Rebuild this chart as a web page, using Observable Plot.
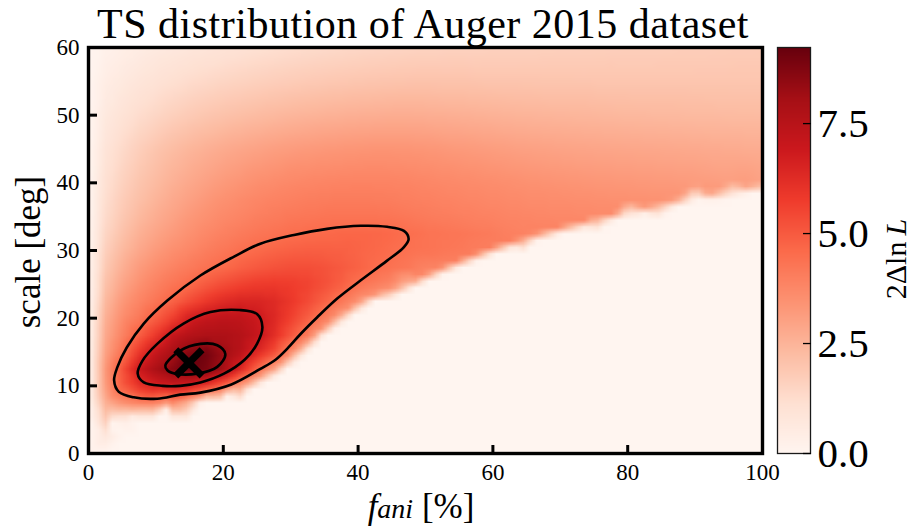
<!DOCTYPE html>
<html><head><meta charset="utf-8">
<script src="https://cdn.jsdelivr.net/npm/d3@7"></script>
<script src="https://cdn.jsdelivr.net/npm/@observablehq/plot@0.6"></script>
<style>
html,body{margin:0;padding:0;background:#fff;overflow:hidden;}
#wrap{position:relative;width:917px;height:529px;overflow:hidden;background:#fff;}
#wrap svg{position:absolute;top:0;}
</style></head><body><div id="wrap"></div>
<script>
// ---- data ----
const fGrid = [0,2.5,5,7.5,10,12.5,15,17.5,20,22.5,25,27.5,30,32.5,35,37.5,40,42.5,45,47.5,50,55,60,65,70,75,80,85,90,95,100];
const sGrid = [0,2.5,5,7.5,10,12.5,15,17.5,20,22.5,25,27.5,30,32.5,35,37.5,40,45,50,55,60];
const tsRows = [
 [0,0,0,0,0,0,0,0,0,0, 0,0,0,0,0,0,0,0,0,0, 0,0,0,0,0,0,0,0,0,0, 0],
 [0,0.7,0,0,0,0,0,0,0,0, 0,0,0,0,0,0,0,0,0,0, 0,0,0,0,0,0,0,0,0,0, 0],
 [0,1.8,0.4,0,0,0,0,0,0,0, 0,0,0,0,0,0,0,0,0,0, 0,0,0,0,0,0,0,0,0,0, 0],
 [0,2.6,3.5,3.9,4.0,3.7,2.5,0,0,0, 0,0,0,0,0,0,0,0,0,0, 0,0,0,0,0,0,0,0,0,0, 0],
 [0,3.2,5.1,6.1,6.7,6.9,6.7,6.0,4.8,3.2, 0,0,0,0,0,0,0,0,0,0, 0,0,0,0,0,0,0,0,0,0, 0],
 [0,3.3,5.2,6.9,7.9,8.6,9.15,8.8,8.0,6.4, 4.7,3.0,0,0,0,0,0,0,0,0, 0,0,0,0,0,0,0,0,0,0, 0],
 [0,3.0,4.3,5.9,7.1,7.9,8.6,9.0,8.3,7.5, 6.5,5.4,3.8,0,0,0,0,0,0,0, 0,0,0,0,0,0,0,0,0,0, 0],
 [0,2.8,3.9,4.9,5.9,7.1,7.6,7.8,7.8,7.6, 7.1,6.2,5.1,4.1,0,0,0,0,0,0, 0,0,0,0,0,0,0,0,0,0, 0],
 [0,2.6,3.6,4.2,4.9,5.7,6.7,7.15,7.35,7.3, 7.0,6.4,5.7,4.9,4.1,1.7,0,0,0,0, 0,0,0,0,0,0,0,0,0,0, 0],
 [0,2.35,3.3,3.85,4.3,4.8,5.4,5.9,6.3,6.5, 6.5,6.3,5.9,5.4,4.8,4.2,3.5,0,0,0, 0,0,0,0,0,0,0,0,0,0, 0],
 [0,2.1,2.95,3.5,3.95,4.3,4.6,5.0,5.35,5.6, 5.8,5.85,5.8,5.6,5.3,4.9,4.4,4.1,3.8,2.6, 0,0,0,0,0,0,0,0,0,0, 0],
 [0,1.85,2.65,3.2,3.6,3.9,4.15,4.38,4.6,4.85, 5.05,5.2,5.3,5.3,5.2,5.0,4.8,4.55,4.35,4.2, 3.9,0,0,0,0,0,0,0,0,0, 0],
 [0,1.65,2.35,2.85,3.25,3.55,3.8,4.05,4.25,4.45, 4.6,4.75,4.85,4.9,4.9,4.85,4.75,4.65,4.52,4.4, 4.35,4.2,2.0,0,0,0,0,0,0,0, 0],
 [0,1.45,2.1,2.6,2.95,3.25,3.5,3.75,3.95,4.12, 4.27,4.38,4.47,4.55,4.62,4.68,4.7,4.68,4.62,4.48, 4.35,4.25,4.1,3.9,0,0,0,0,0,0, 0],
 [0,1.3,1.9,2.35,2.7,3.0,3.3,3.5,3.7,3.85, 4.0,4.1,4.2,4.25,4.3,4.32,4.32,4.3,4.27,4.2, 4.12,4.0,3.9,3.8,3.75,3.7,0,0,0,0, 0],
 [0,1.2,1.75,2.15,2.5,2.8,3.05,3.3,3.5,3.65, 3.8,3.9,3.98,4.03,4.07,4.1,4.1,4.08,4.05,4.0, 3.95,3.85,3.75,3.65,3.6,3.55,3.5,3.45,0,0, 0],
 [0,1.1,1.6,2.0,2.3,2.6,2.85,3.05,3.25,3.4, 3.55,3.65,3.75,3.8,3.85,3.88,3.9,3.9,3.88,3.85, 3.8,3.7,3.6,3.5,3.42,3.35,3.3,3.25,3.2,3.1, 3.0],
 [0,0.9,1.35,1.7,2.0,2.25,2.45,2.62,2.78,2.9, 3.0,3.1,3.18,3.25,3.3,3.34,3.37,3.4,3.4,3.38, 3.35,3.25,3.15,3.05,2.98,2.92,2.88,2.84,2.8,2.75, 2.7],
 [0,0.65,1.0,1.25,1.45,1.65,1.82,1.96,2.08,2.18, 2.28,2.36,2.44,2.5,2.56,2.6,2.64,2.67,2.7,2.7, 2.68,2.63,2.56,2.5,2.46,2.42,2.38,2.35,2.32,2.3, 2.28],
 [0,0.42,0.65,0.85,1.0,1.15,1.28,1.38,1.48,1.56, 1.64,1.71,1.77,1.83,1.88,1.92,1.96,1.99,2.02,2.04, 2.05,2.04,2.0,1.99,1.98,1.97,1.96,1.96,1.96,1.96, 1.96],
 [0,0.2,0.35,0.48,0.6,0.7,0.8,0.88,0.96,1.03, 1.1,1.16,1.22,1.28,1.33,1.38,1.42,1.46,1.49,1.52, 1.55,1.58,1.6,1.62,1.64,1.66,1.68,1.7,1.72,1.74, 1.76]
];
// the sharp cut-off edge (lower right of the coloured region): points just inside it, and just outside it (value 0)
const edgeInside = [[3.3,5.6],[7,6.6],[11.5,7.6],[16.5,8.6],[20.5,9.6],[24.2,10.6],[25.5,11.5],[27,12.5],[28.5,13.5],[29.8,14.5],[31,15.5],[32.1,16.5],[33.3,17.5],[34.5,18.5],[35.7,19.5],[37,20.5],[38.5,21.5],[40.1,22.5],[42.3,23.5],[45,24.5],[48,25.6],[50.2,26.6],[52.4,27.6],[54.8,28.6],[57.4,29.6],[60,30.6],[63,31.6],[66.3,32.6],[70,33.6],[74,34.6],[78,35.6],[82.5,36.6],[87,37.6],[92,38.6],[97.5,39.6],[100,39.9]];
const edgeInsideTs = [1.4,2.6,3.5,3.7,3.3,3.0,3.2,3.3,3.4,3.5,3.5,3.5,3.5,3.5,3.5,3.5,3.5,3.5,3.5,3.5,3.6,3.8,3.9,4.0,4.05,4.05,4.0,3.95,3.85,3.75,3.65,3.55,3.45,3.35,3.2,3.1];
const edgeOutside = [[3.3,4.4],[7,5.4],[11.5,6.4],[16.5,7.4],[20.5,8.4],[24.2,9.4],[26.5,10.5],[28,11.5],[29.5,12.5],[30.8,13.5],[32,14.5],[33.1,15.5],[34.3,16.5],[35.5,17.5],[36.7,18.5],[38,19.5],[39.5,20.5],[41.1,21.5],[43.3,22.5],[46,23.5],[48,24.4],[50.2,25.4],[52.4,26.4],[54.8,27.4],[57.4,28.4],[60,29.4],[63,30.4],[66.3,31.4],[70,32.4],[74,33.4],[78,34.4],[82.5,35.4],[87,36.4],[92,37.4],[97.5,38.4],[100,38.7]];
const bestFit = {f: 14.9, s: 13.4, ts: 9.23};
const outerContour = [[47.5,31.7],[46.8,32.9],[44.3,33.5],[40.4,33.65],[35.4,33.2],[30.5,32.3],[25.5,31.0],[21.6,29.1],[16.6,26.3],[11.7,22.6],[8.2,19.2],[5.7,15.7],[4.3,12.8],[3.8,10.8],[4.5,9.1],[6.7,8.3],[10.2,8.1],[13.6,8.7],[16.6,9.0],[21.2,10.2],[25.5,12.5],[27.8,13.9],[29.5,15.5],[31.5,17.7],[33.9,20.1],[36.9,22.9],[40.4,25.6],[44.3,28.5],[46.8,30.5]];
const midContour = [[22.4,21.2],[25.0,20.6],[25.8,18.7],[25.0,16.2],[23.2,13.9],[20.1,11.8],[16.6,10.5],[13.6,10.0],[11.0,10.0],[8.2,10.5],[7.3,11.8],[8.0,13.7],[10.2,16.2],[14.1,19.2],[18.1,20.9]];
const innerContour = [[11.4,13.0],[13.6,15.2],[16.6,16.2],[19.1,16.0],[20.3,14.7],[19.1,12.8],[16.1,11.8],[12.9,11.8],[11.7,12.3]];
const xTicks = [0,20,40,60,80,100];
const yTicks = [0,10,20,30,40,50,60];
const cbarTicks = [0,2.5,5,7.5];
const cbarMax = 9.23;
const redsColors = ["#fff5f0","#fee0d2","#fcbba1","#fc9272","#fb6a4a","#ef3b2c","#cb181d","#a50f15","#67000d"];

// ---- build table ----
const points = [];
sGrid.forEach((s, i) => fGrid.forEach((f, j) => points.push({f, s, v: tsRows[i][j]})));
edgeInside.forEach(([f, s], i) => points.push({f, s, v: edgeInsideTs[i]}));
edgeOutside.forEach(([f, s]) => points.push({f, s, v: 0}));
points.push({f: bestFit.f, s: bestFit.s, v: bestFit.ts});

const colorDomain = redsColors.map((_, i) => i * cbarMax / (redsColors.length - 1));
const colorOpts = {type: "linear", domain: colorDomain, range: redsColors, interpolate: "rgb"};
const FONT = "'Liberation Serif','Times New Roman',serif";
const wrap = document.getElementById("wrap");

const lineOpts = {x: d => d[0], y: d => d[1], curve: "catmull-rom-closed", stroke: "black", strokeWidth: 2.6};

const main = Plot.plot({
  width: 917, height: 529,
  marginLeft: 88, marginRight: 155, marginTop: 47, marginBottom: 76,
  x: {domain: [0, 100], label: null},
  y: {domain: [0, 60], label: null},
  color: colorOpts,
  style: {fontFamily: FONT, fontSize: "23px", background: "transparent", color: "#000"},
  marks: [
    Plot.raster(points, {x: "f", y: "s", fill: "v", interpolate: "barycentric", pixelSize: 6.74}),
    Plot.line(outerContour, lineOpts),
    Plot.line(midContour, lineOpts),
    Plot.line(innerContour, lineOpts),
    Plot.dot([bestFit], {x: "f", y: "s", symbol: "times", r: 12, stroke: "black", strokeWidth: 7}),
    Plot.frame({stroke: "black", strokeWidth: 3.4}),
    Plot.axisX({ticks: xTicks, tickSize: -8, tickPadding: 18, strokeWidth: 3, label: null, fontSize: 23}),
    Plot.axisY({ticks: yTicks, tickSize: -9, tickPadding: 18, strokeWidth: 3, label: null, fontSize: 23})
  ]
});
main.style.left = "0px";
wrap.appendChild(main);

const cbar = Plot.plot({
  width: 157, height: 529,
  marginLeft: 17, marginRight: 107, marginTop: 47, marginBottom: 76,
  x: {domain: [0, 1], axis: null},
  y: {domain: [0, cbarMax], label: null},
  color: colorOpts,
  style: {fontFamily: FONT, fontSize: "41px", background: "transparent", color: "#000"},
  marks: [
    Plot.raster({fill: (x, y) => y, x1: 0, x2: 1, y1: 0, y2: cbarMax, pixelSize: 1}),
    Plot.frame({stroke: "#1a1a1a", strokeWidth: 1.3}),
    Plot.axisY({ticks: cbarTicks, anchor: "right", tickSize: -8, tickPadding: 15, tickFormat: d => d.toFixed(1), strokeWidth: 1.3, label: null, fontSize: 41})
  ]
});
cbar.style.left = "760px";
wrap.appendChild(cbar);

// ---- text overlay ----
const ns = "http://www.w3.org/2000/svg";
const ov = document.createElementNS(ns, "svg");
ov.setAttribute("width", 917); ov.setAttribute("height", 529);
ov.style.left = "0px";
ov.setAttribute("font-family", "Liberation Serif, Times New Roman, serif");
ov.innerHTML = `
 <text x="423" y="37.5" font-size="42" letter-spacing="0.5" text-anchor="middle">TS distribution of Auger 2015 dataset</text>
 <text transform="translate(40,252) rotate(-90)" font-size="35" text-anchor="middle">scale [deg]</text>
 <text x="421" y="518" font-size="35" text-anchor="middle"><tspan font-style="italic">f</tspan><tspan font-style="italic" font-size="28">ani</tspan> [%]</text>
 <text transform="translate(906,259) rotate(-90)" font-size="30" text-anchor="middle">2Δln<tspan font-style="italic">\u2009L</tspan></text>`;
wrap.appendChild(ov);
</script></body></html>
